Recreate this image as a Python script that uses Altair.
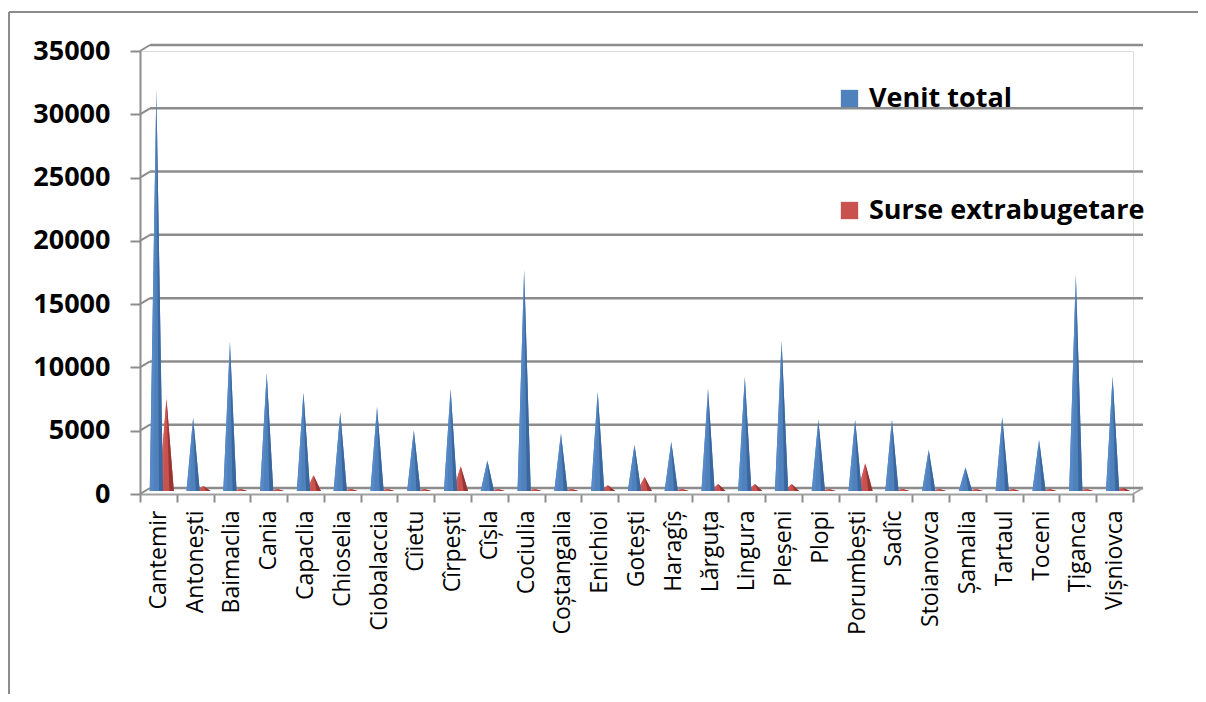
import json
import altair as alt
import pandas as pd

# ---------------- data ----------------
categories = ["Cantemir", "Antonești", "Baimaclia", "Cania", "Capaclia", "Chioselia",
              "Ciobalaccia", "Cîietu", "Cîrpești", "Cîșla", "Cociulia", "Coștangalia",
              "Enichioi", "Gotești", "Haragîș", "Lărguța", "Lingura", "Pleșeni", "Plopi",
              "Porumbești", "Sadîc", "Stoianovca", "Șamalia", "Tartaul", "Toceni",
              "Țiganca", "Vișniovca"]
venit_total = [31700, 5800, 11800, 9300, 7800, 6250, 6650, 4800, 8050, 2400, 17500, 4550,
               7850, 3650, 3900, 8050, 9050, 11850, 5650, 5650, 5650, 3250, 1850, 5850,
               4050, 17100, 9050]
surse_extra = [7300, 400, 150, 150, 1250, 150, 150, 150, 1950, 150, 150, 150,
               450, 1100, 150, 550, 550, 550, 150, 2200, 150, 150, 150, 150,
               150, 150, 250]
series_names = ["Venit total", "Surse extrabugetare"]
y_ticks = [0, 5000, 10000, 15000, 20000, 25000, 30000, 35000]

# ---------------- style / layout constants ----------------
W, H = 993, 443
N = len(categories)
BLUE, BLUE_DARK, BLUE_LIGHT = "#4F81BD", "#3A679E", "#5789C6"
RED, RED_DARK, RED_LIGHT = "#C9524F", "#963634", "#D25B58"
GRID = "#8C8C8C"
FONT = "Open Sans"
SHIFT = {"Venit total": -0.055, "Surse extrabugetare": 0.22}
HALF = {"Venit total": 0.18, "Surse extrabugetare": 0.2}
K = 0.4   # share of the half-base covered by the dark (right) face
L = 0.45  # share of the half-base covered by the light (left) highlight

faces, sides, lights = [], [], []
for s, vals in zip(series_names, [venit_total, surse_extra]):
    for i, (c, v) in enumerate(zip(categories, vals)):
        cx = i + 0.5 + SHIFT[s]
        w = HALF[s]
        faces += [dict(cat=c, series=s, x=cx - w, y=0, y2=0),
                  dict(cat=c, series=s, x=cx, y=v, y2=0),
                  dict(cat=c, series=s, x=cx + w, y=0, y2=0)]
        sides += [dict(cat=c, series=s, x=cx, y=v, y2=v),
                  dict(cat=c, series=s, x=cx + K * w, y=v * (1 - K), y2=0),
                  dict(cat=c, series=s, x=cx + w, y=0, y2=0)]
        lights += [dict(cat=c, series=s, x=cx - w, y=0, y2=0),
                   dict(cat=c, series=s, x=cx - L * w, y=v * (1 - L), y2=0),
                   dict(cat=c, series=s, x=cx, y=v, y2=v)]
faces = pd.DataFrame(faces)
sides = pd.DataFrame(sides)
lights = pd.DataFrame(lights)
grid_df = pd.DataFrame({"v": y_ticks})

names_js = json.dumps(categories, ensure_ascii=False)

xscale = alt.Scale(domain=[0, N], nice=False, zero=False)
yscale = alt.Scale(domain=[0, 35000], nice=False, zero=True)

xaxis = alt.Axis(values=list(range(N + 1)),
                 labelExpr=f"datum.value < {N} ? {names_js}[datum.value] : ''",
                 labelOffset=W / N / 2, labelAngle=-90, labelFont=FONT, labelFontSize=23,
                 labelColor="black", labelPadding=8, labelOverlap=False, labelFlush=False,
                 labelBound=False, tickSize=8, tickColor=GRID, tickWidth=2,
                 domainColor="#A0A0A0", domainWidth=2, grid=False, title=None)
yaxis = alt.Axis(values=y_ticks, format="d", labelFont=FONT, labelFontSize=27,
                 labelFontWeight="bold", labelColor="black", labelPadding=20,
                 tickSize=10, tickColor=GRID, tickWidth=2, domainColor=GRID,
                 domainWidth=2, grid=False, title=None)

X = alt.X("x:Q", scale=xscale, axis=xaxis)
Y = alt.Y("y:Q", scale=yscale, axis=yaxis)
Y2 = alt.Y2("y2:Q")

color = alt.Color("series:N",
                  scale=alt.Scale(domain=series_names, range=[BLUE, RED]),
                  legend=alt.Legend(title=None, orient="none", legendX=696, legendY=34,
                                    symbolType="square", symbolSize=300,
                                    symbolStrokeWidth=0, labelFont=FONT,
                                    labelFontSize=27, labelFontWeight="bold",
                                    labelColor="black", labelOffset=6, labelLimit=500,
                                    rowPadding=84, padding=0))

# outer chart frame (cropped in the reference)
frame_left = alt.Chart(grid_df.head(1)).mark_rule(color="#8C8C8C", strokeWidth=2).encode(
    x=alt.value(-131), y=alt.value(-39), y2=alt.value(700))
frame_top = alt.Chart(grid_df.head(1)).mark_rule(color="#8C8C8C", strokeWidth=2).encode(
    x=alt.value(-131), x2=alt.value(1058), y=alt.value(-39))

# back-wall gridlines and the 3D connectors
gridlines = alt.Chart(grid_df).mark_rule(color=GRID, strokeWidth=2.5, yOffset=-6).encode(
    y=alt.Y("v:Q", scale=yscale, axis=yaxis), x=alt.value(10), x2=alt.value(W + 10))
connectors = alt.Chart(grid_df).mark_rule(color=GRID, strokeWidth=2, y2Offset=-6).encode(
    y=alt.Y("v:Q", scale=yscale, axis=yaxis), y2=alt.Y2("v:Q"),
    x=alt.value(0), x2=alt.value(10))
floor_right = alt.Chart(grid_df.head(1)).mark_rule(color="#A0A0A0", strokeWidth=2,
                                                   y2Offset=-6).encode(
    y=alt.Y("v:Q", scale=yscale, axis=yaxis), y2=alt.Y2("v:Q"),
    x=alt.value(W), x2=alt.value(W + 10))


def spike_layers(s, dark, light):
    f = alt.Chart(faces[faces.series == s]).mark_area(
        interpolate="linear", yOffset=-3, y2Offset=-3, strokeWidth=0).encode(
        x=X, y=Y, y2=Y2, color=color, detail="cat:N")
    lt = alt.Chart(lights[lights.series == s]).mark_area(
        interpolate="linear", yOffset=-3, y2Offset=-3, color=light, strokeWidth=0).encode(
        x=X, y=Y, y2=Y2, detail="cat:N")
    d = alt.Chart(sides[sides.series == s]).mark_area(
        interpolate="linear", yOffset=-3, y2Offset=-3, color=dark, strokeWidth=0).encode(
        x=X, y=Y, y2=Y2, detail="cat:N")
    return [f, lt, d]


layers = ([frame_left, frame_top, gridlines, connectors, floor_right]
          + spike_layers("Surse extrabugetare", RED_DARK, RED_LIGHT)
          + spike_layers("Venit total", BLUE_DARK, BLUE_LIGHT))

chart = alt.layer(*layers).properties(
    width=W, height=H,
    autosize=alt.AutoSizeParams(type="none"),
    padding={"left": 132, "top": 43, "right": 65, "bottom": 200},
).configure_view(stroke=None).configure(background="white")

chart.save("out.html", embed_options={"renderer": "svg", "actions": False})
